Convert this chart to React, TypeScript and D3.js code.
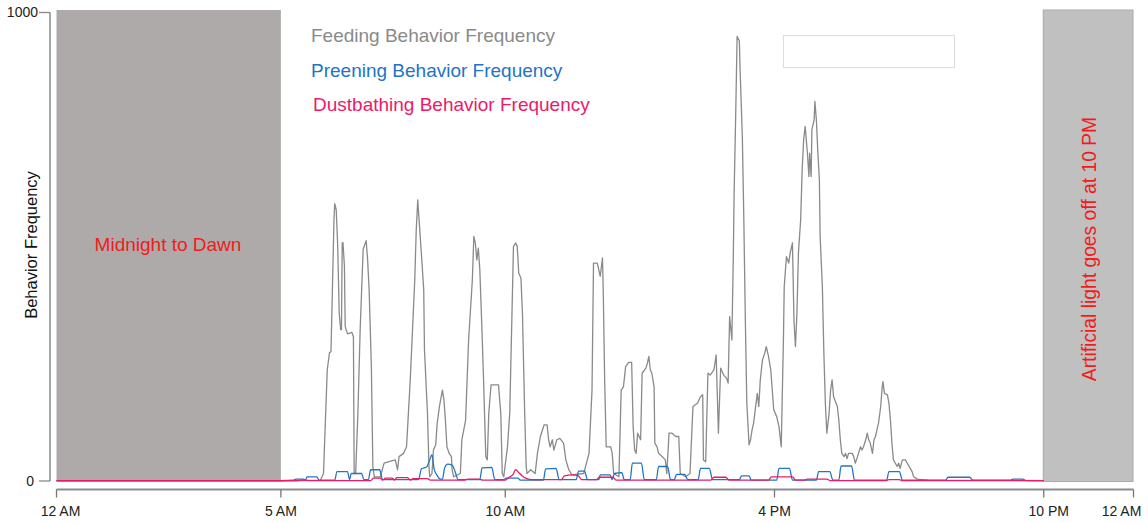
import React from "react";
import * as d3 from "d3";

// time in minutes since midnight, value = behavior frequency
const feeding: [number, number][] = [
  [0,0],[300,0],[353,2],[357,16],[362,237],[365,274],[367,276],[371,558],[372,592],[374,579],[376,501],[378,358],[380,323],[381,323],[382,508],[383,509],[385,458],[386,330],[389,314],[395,317],[397,308],[398,16],[400,16],[403,145],[406,323],[410,494],[412,504],[414,513],[416,472],[418,408],[421,244],[423,31],[425,9],[433,9],[438,38],[440,39],[453,45],[456,24],[458,52],[464,59],[468,73],[470,130],[473,216],[477,358],[479,429],[481,536],[483,600],[486,529],[489,458],[491,408],[492,280],[496,145],[498,31],[499,9],[502,16],[504,66],[507,77],[509,123],[512,159],[516,194],[518,173],[520,130],[522,73],[525,59],[528,52],[529,24],[531,9],[540,16],[542,88],[547,130],[551,301],[556,429],[558,522],[560,508],[562,472],[564,497],[566,451],[569,316],[571,216],[574,52],[576,45],[578,145],[581,205],[591,205],[594,145],[596,16],[598,9],[603,73],[606,145],[609,358],[611,501],[614,508],[616,501],[618,444],[621,433],[623,358],[626,145],[628,31],[629,16],[634,24],[640,16],[643,59],[647,95],[652,120],[656,120],[658,88],[660,73],[663,88],[665,66],[669,88],[673,91],[678,81],[681,45],[685,24],[689,13],[705,16],[712,59],[716,194],[718,465],[723,465],[727,437],[730,476],[731,408],[733,209],[735,73],[741,73],[743,59],[745,16],[752,9],[755,194],[758,201],[761,244],[765,253],[769,253],[771,116],[773,66],[775,59],[777,102],[781,88],[783,230],[788,241],[790,251],[792,266],[794,237],[796,230],[799,201],[800,81],[803,73],[805,59],[810,52],[814,45],[816,16],[819,102],[823,102],[828,95],[832,95],[834,16],[841,9],[847,16],[851,159],[857,166],[861,180],[864,184],[865,45],[868,41],[871,230],[874,226],[879,237],[882,269],[885,102],[888,241],[892,226],[896,219],[898,209],[900,351],[903,301],[905,487],[906,615],[908,771],[910,949],[913,939],[914,878],[917,736],[919,558],[921,344],[923,166],[926,77],[928,88],[930,109],[932,123],[937,187],[939,159],[941,216],[944,259],[947,273],[949,287],[952,266],[955,237],[959,152],[963,137],[966,116],[969,73],[972,308],[973,415],[976,479],[979,465],[981,487],[984,508],[986,344],[988,287],[990,358],[992,487],[995,558],[997,665],[999,729],[1001,757],[1004,700],[1006,650],[1007,700],[1009,650],[1010,750],[1013,771],[1014,810],[1016,771],[1018,700],[1020,643],[1021,522],[1024,415],[1026,273],[1028,166],[1030,102],[1033,145],[1035,194],[1037,216],[1039,180],[1044,159],[1046,130],[1048,88],[1050,59],[1053,52],[1055,59],[1057,48],[1059,59],[1064,59],[1066,52],[1068,38],[1071,52],[1075,73],[1077,66],[1079,73],[1082,88],[1084,102],[1086,88],[1088,81],[1091,59],[1093,88],[1095,95],[1097,109],[1099,123],[1102,159],[1104,201],[1105,212],[1107,187],[1111,184],[1113,166],[1115,130],[1117,81],[1119,45],[1124,31],[1126,38],[1128,27],[1131,45],[1135,45],[1140,31],[1144,20],[1146,9],[1151,4],[1165,2],[1320,1]
];

const preening: [number, number][] = [
  [0,1],[300,1],[317,2],[320,4],[330,4],[333,2],[335,9],[348,9],[351,2],[372,2],[375,20],[389,20],[392,3],[394,16],[408,16],[411,3],[417,3],[420,24],[432,24],[436,3],[484,3],[488,26],[495,30],[499,45],[502,56],[505,25],[509,12],[513,4],[516,4],[519,28],[523,36],[529,34],[533,20],[537,3],[566,3],[569,28],[582,29],[586,3],[598,3],[601,6],[617,6],[620,2],[651,2],[654,26],[668,27],[672,3],[695,3],[698,21],[706,21],[710,3],[725,3],[727,13],[740,13],[743,3],[746,16],[756,18],[759,3],[767,3],[770,38],[782,38],[786,3],[802,3],[805,31],[817,31],[821,3],[826,3],[829,14],[840,14],[844,3],[858,3],[861,27],[873,27],[877,3],[913,3],[916,11],[926,11],[929,2],[963,2],[966,27],[980,27],[984,2],[1016,2],[1019,20],[1034,20],[1038,2],[1046,2],[1049,32],[1063,32],[1067,2],[1110,2],[1113,20],[1127,20],[1131,2],[1189,2],[1192,8],[1221,8],[1225,2],[1276,2],[1279,4],[1292,4],[1296,1],[1320,1]
];

const dustbathing: [number, number][] = [
  [0,1],[320,1],[330,2],[340,1],[420,1],[424,6],[433,6],[436,2],[440,6],[449,6],[452,2],[455,7],[469,7],[473,2],[477,5],[496,5],[500,2],[545,2],[550,4],[565,4],[570,2],[600,2],[605,8],[610,13],[614,24],[618,18],[622,12],[629,5],[635,3],[675,3],[679,11],[690,13],[698,11],[702,3],[722,3],[726,8],[744,8],[748,2],[875,2],[879,8],[895,8],[899,2],[952,2],[956,9],[984,9],[988,2],[1000,2],[1004,4],[1030,4],[1034,1],[1110,1],[1113,3],[1127,3],[1131,1],[1320,1]
];

const xTickMinutes = [0, 300, 600, 960, 1320, 1440];
const xTickLabels = ["12 AM", "5 AM", "10 AM", "4 PM", "10 PM", "12 AM"];
const yTicks = [0, 1000];
const legendLabels = [
  "Feeding Behavior Frequency",
  "Preening Behavior Frequency",
  "Dustbathing Behavior Frequency",
];
const seriesColors = ["#8a8a8a", "#2274c6", "#ec1a68"];
const shadedSpans: [number, number][] = [[0, 300], [1320, 1440]];

const FONT = "'Liberation Sans', Arial, sans-serif";

export default function App() {
  const W = 1148, H = 523;
  const x = d3.scaleLinear().domain([0, 1440]).range([56.5, 1133.5]);
  const y = d3.scaleLinear().domain([0, 1000]).range([481, 12.5]);

  const lineLinear = d3.line<[number, number]>().x(d => x(d[0])).y(d => y(d[1]));
  const lineSmooth = d3.line<[number, number]>().x(d => x(d[0])).y(d => y(d[1])).curve(d3.curveMonotoneX);

  const labelDx = [4, 0, 0, 0, 5, -12];

  return (
    <svg width={W} height={H} style={{ position: "absolute", left: 0, top: 0, background: "#fff" }}
      fontFamily={FONT}>
      {/* shaded night spans */}
      <rect x={x(shadedSpans[0][0])} y={10} width={x(shadedSpans[0][1]) - x(shadedSpans[0][0])} height={y(0) - 10} fill="#aeaaa9" />
      <rect x={x(shadedSpans[1][0]) - 0.5} y={10} width={x(shadedSpans[1][1]) - x(shadedSpans[1][0])} height={y(0) - 10 + 0.5} fill="#c0c0c0" stroke="#a9a9a9" strokeWidth={1} />

      {/* empty legend box */}
      <rect x={783.5} y={35.5} width={171} height={32} fill="#fff" stroke="#dcdcdc" strokeWidth={1} />

      {/* series */}
      <path d={lineLinear(feeding) || ""} fill="none" stroke={seriesColors[0]} strokeWidth={1.3} strokeLinejoin="round" />
      <path d={lineSmooth(preening) || ""} fill="none" stroke={seriesColors[1]} strokeWidth={1.3} />
      <path d={lineSmooth(dustbathing) || ""} fill="none" stroke={seriesColors[2]} strokeWidth={1.3} />

      {/* y axis */}
      <line x1={50} x2={50} y1={y(1000)} y2={y(0)} stroke="#888" strokeWidth={1.5} />
      {yTicks.map(t => (
        <g key={t}>
          <line x1={39} x2={50} y1={y(t)} y2={y(t)} stroke="#888" strokeWidth={1.3} />
          <text x={t === 0 ? 34 : 38} y={y(t)} dy="0.35em" textAnchor="end" fontSize={14} fill="#222">{t}</text>
        </g>
      ))}
      <text transform={`translate(37,245) rotate(-90)`} textAnchor="middle" fontSize={16.5} fill="#111">Behavior Frequency</text>

      {/* x axis */}
      <line x1={x(0)} x2={x(1440)} y1={489.5} y2={489.5} stroke="#8c8c8c" strokeWidth={1.8} />
      {xTickMinutes.map((m, i) => (
        <g key={i}>
          <line x1={x(m)} x2={x(m)} y1={489.5} y2={497.5} stroke="#777" strokeWidth={1.3} />
          <text x={x(m) + labelDx[i]} y={516} textAnchor="middle" fontSize={14} fill="#222">{xTickLabels[i]}</text>
        </g>
      ))}

      {/* legend texts */}
      {legendLabels.map((l, i) => (
        <text key={l} x={i === 2 ? 313 : 311} y={42 + i * 34.7} fontSize={19} fill={seriesColors[i]}>{l}</text>
      ))}

      {/* annotations */}
      <text x={168} y={251} textAnchor="middle" fontSize={19} fill="#f01c1c">Midnight to Dawn</text>
      <text transform={`translate(1096,249) rotate(-90)`} textAnchor="middle" fontSize={19.3} fill="#f01c1c">Artificial light goes off at 10 PM</text>
    </svg>
  );
}
